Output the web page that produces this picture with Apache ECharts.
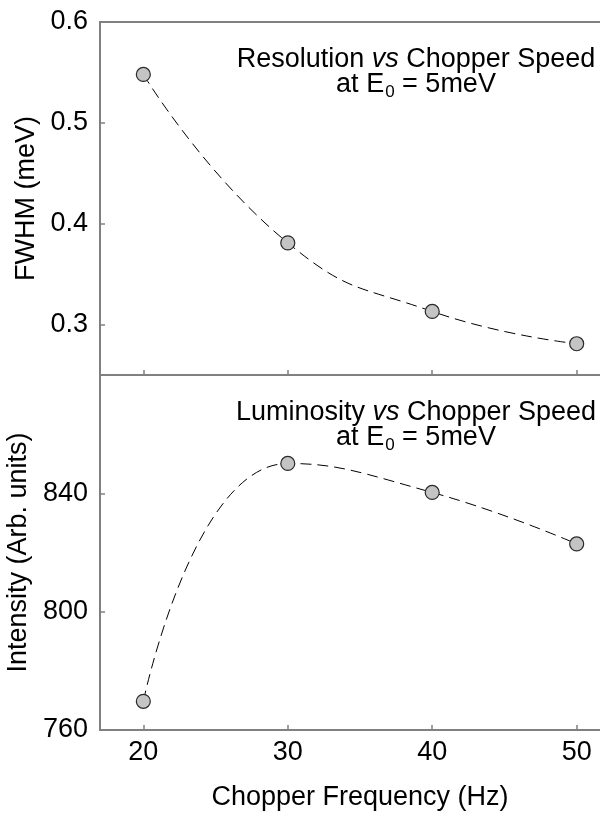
<!DOCTYPE html>
<html>
<head>
<meta charset="utf-8">
<script src="https://cdn.jsdelivr.net/npm/echarts@6/dist/echarts.min.js"></script>
<style>html,body{margin:0;padding:0;background:#fff}#c{width:600px;height:817px}</style>
</head>
<body>
<div id="c"></div>
<script>
const freq = [20, 30, 40, 50];
const fwhm = [0.548, 0.381, 0.313, 0.281];
const intensity = [769.7, 850.1, 840.3, 822.9];
const xTicks = [20, 30, 40, 50];
const fwhmTicks = [0.3, 0.4, 0.5, 0.6];
const intTicks = [760, 800, 840];

const FONT = '"Liberation Sans", Arial, sans-serif';
const AX = '#808080';
const chart = echarts.init(document.getElementById('c'), null, {renderer: 'canvas'});

function xAxis(gi, showLabels) {
  return {
    type: 'value', gridIndex: gi, min: 17, max: 53,
    axisLine: {show: true, onZero: false, lineStyle: {color: AX, width: 2}},
    axisTick: {show: true, inside: true, length: 5, customValues: xTicks, lineStyle: {color: AX, width: 1.5}},
    axisLabel: {show: showLabels, customValues: xTicks, fontFamily: FONT, fontSize: 27, color: '#000', margin: 9},
    splitLine: {show: false},
    name: showLabels ? 'Chopper Frequency (Hz)' : '',
    nameLocation: 'middle', nameGap: 54,
    nameTextStyle: {fontFamily: FONT, fontSize: 27, color: '#000'}
  };
}

function yAxis(gi, min, max, ticks, name, fmt) {
  return {
    type: 'value', gridIndex: gi, min: min, max: max,
    axisLine: {show: true, onZero: false, lineStyle: {color: AX, width: 2}},
    axisTick: {show: true, inside: true, length: 5, customValues: ticks, lineStyle: {color: AX, width: 1.5}},
    axisLabel: {customValues: ticks, fontFamily: FONT, fontSize: 27, color: '#000', margin: 12, formatter: fmt},
    splitLine: {show: false},
    name: name, nameLocation: 'middle', nameGap: 52,
    nameTextStyle: {fontFamily: FONT, fontSize: 27, color: '#000'}
  };
}

const markerStyle = {color: '#c4c4c4', borderColor: '#2a2a2a', borderWidth: 1.2};
const lineStyle = {color: '#000', width: 1, type: [11, 6]};

const rich = {
  n: {fontFamily: FONT, fontSize: 27, color: '#000', fontWeight: 'normal'},
  i: {fontFamily: FONT, fontSize: 27, color: '#000', fontWeight: 'normal', fontStyle: 'italic'},
  s: {fontFamily: FONT, fontSize: 17, color: '#000', fontWeight: 'normal', padding: [16, 0, 0, 1]}
};

chart.setOption({
  animation: false,
  grid: [
    {left: 100, top: 22, width: 520, height: 353, show: true, borderColor: AX, borderWidth: 2,
     containLabel: false, outerBoundsMode: 'none'},
    {left: 100, top: 375, width: 520, height: 355, show: true, borderColor: AX, borderWidth: 2,
     containLabel: false, outerBoundsMode: 'none'}
  ],
  xAxis: [xAxis(0, false), xAxis(1, true)],
  yAxis: [
    yAxis(0, 0.25, 0.6, fwhmTicks, 'FWHM (meV)', v => v.toFixed(1)),
    yAxis(1, 760, 880, intTicks, 'Intensity (Arb. units)', v => String(v))
  ],
  title: [
    {text: '{n|Resolution }{i|vs}{n| Chopper Speed}\n{n|at E}{s|0}{n| = 5meV}', left: 411, top: 42, textAlign: 'center',
     textStyle: {rich: rich, lineHeight: 25}},
    {text: '{n|Luminosity }{i|vs}{n| Chopper Speed}\n{n|at E}{s|0}{n| = 5meV}', left: 411, top: 395, textAlign: 'center',
     textStyle: {rich: rich, lineHeight: 25}}
  ],
  series: [
    {type: 'line', xAxisIndex: 0, yAxisIndex: 0, data: freq.map((f, k) => [f, fwhm[k]]),
     smooth: 0.5, symbol: 'circle', symbolSize: 14, itemStyle: markerStyle, lineStyle: lineStyle, z: 3},
    {type: 'line', xAxisIndex: 1, yAxisIndex: 1, data: freq.map((f, k) => [f, intensity[k]]),
     smooth: 0.5, symbol: 'circle', symbolSize: 14, itemStyle: markerStyle, lineStyle: lineStyle, z: 3}
  ]
});
</script>
</body>
</html>
